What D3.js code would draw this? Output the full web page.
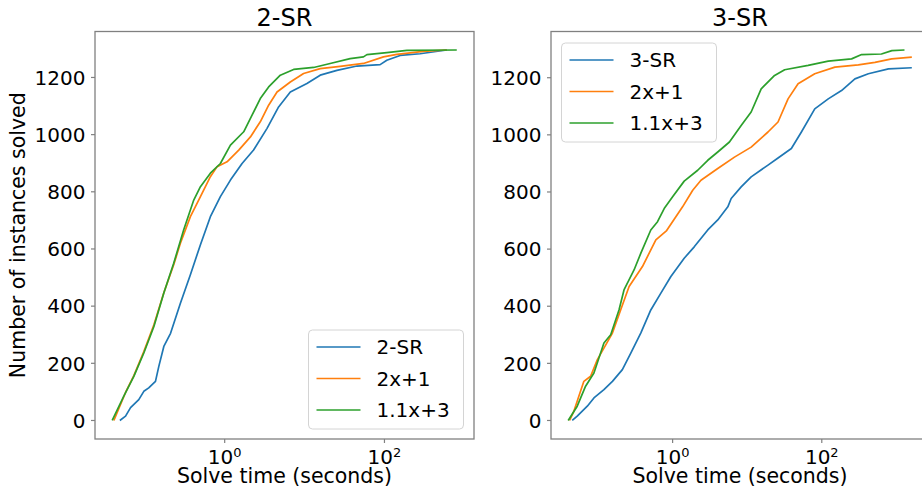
<!DOCTYPE html>
<html>
<head>
<meta charset="utf-8">
<script src="https://cdn.jsdelivr.net/npm/d3@7"></script>
<style>
  body { margin: 0; background: #fff; }
  text { font-family: "DejaVu Sans", sans-serif; fill: #000; }
</style>
</head>
<body>
<div id="chart"></div>
<script>
// Values: [solve time (s), instances solved]
const left2SR = [[0.0487,0],[0.0574,15],[0.0663,45],[0.0841,73],[0.0972,102],[0.112,114],[0.136,137],[0.150,190],
  [0.173,259],[0.210,305],[0.279,410],[0.372,510],[0.497,615],[0.662,713],[0.883,783],[1.18,841],[1.65,899],
  [2.30,946],[3.39,1022],[4.73,1097],[6.63,1149],[10.7,1179],[15.7,1208],[25.4,1225],[45.2,1240],[88.3,1245],
  [107,1260],[157,1277],[279,1283],[603,1296]];
const left2x1 = [[0.041,0],[0.0574,98],[0.0729,157],[0.0972,241],[0.130,335],[0.173,447],[0.230,545],[0.279,620],
  [0.372,713],[0.497,783],[0.662,853],[0.804,888],[1.07,905],[1.50,946],[2.10,992],[2.79,1045],[3.55,1103],
  [4.52,1149],[6.63,1184],[9.72,1214],[15.7,1231],[27.9,1239],[54.6,1249],[97.2,1272],[143,1281],[307,1291],[603,1296]];
const left11x3 = [[0.0391,0],[0.0546,85],[0.0729,154],[0.0972,236],[0.130,329],[0.173,446],[0.230,550],[0.307,667],
  [0.410,771],[0.497,818],[0.662,865],[0.883,899],[1.18,963],[1.73,1010],[2.20,1068],[2.79,1126],[3.55,1167],
  [4.97,1208],[7.29,1228],[13.0,1235],[20.9,1249],[37.2,1266],[54.6,1272],[60.3,1280],[107,1287],[191,1295],[804,1296]];

const right3SR = [[0.0451,0],[0.0526,15],[0.0718,50],[0.0881,79],[0.120,108],[0.156,137],[0.212,178],[0.275,236],
  [0.374,306],[0.510,387],[0.696,446],[0.948,504],[1.43,568],[1.95,608],[2.96,667],[4.03,702],[5.50,748],[6.10,777],
  [8.30,818],[11.3,853],[19.0,894],[25.9,919],[39.1,952],[53.3,1010],[80.5,1091],[122,1126],[184,1155],[278,1196],
  [421,1214],[783,1231],[1611,1235]];
const right2x1 = [[0.0415,0],[0.0474,32],[0.0553,85],[0.0646,137],[0.0795,155],[0.098,213],[0.156,306],[0.201,387],
  [0.261,469],[0.394,539],[0.596,632],[0.832,665],[1.36,748],[1.86,806],[2.40,841],[4.03,882],[6.75,922],[11.3,957],
  [19.0,1010],[25.9,1045],[35.3,1126],[48.1,1179],[80.5,1214],[150,1237],[309,1245],[516,1254],[867,1266],[1611,1272]];
const right11x3 = [[0.0398,0],[0.0526,50],[0.0681,120],[0.0881,166],[0.120,271],[0.148,300],[0.191,387],[0.223,457],
  [0.304,527],[0.374,585],[0.510,667],[0.628,696],[0.771,742],[1.0,783],[1.43,838],[2.17,876],[2.96,911],[4.03,940],
  [5.78,975],[8.30,1033],[11.3,1080],[15.4,1161],[23.3,1208],[31.8,1228],[65.6,1243],[122,1258],[251,1266],
  [342,1281],[631,1283],[871,1295],[1285,1297]];

const titles = ["2-SR", "3-SR"];
const leftLabels = ["2-SR", "2x+1", "1.1x+3"];
const rightLabels = ["3-SR", "2x+1", "1.1x+3"];
const yTicks = [0, 200, 400, 600, 800, 1000, 1200];
const xTickExps = [0, 2];
const colors = ["#1f77b4", "#ff7f0e", "#2ca02c"];

const W = 922, H = 497;
const plotTop = 31.5, plotBottom = 439;
const spineColor = "#808080";

const svg = d3.select("#chart").append("svg")
  .attr("width", W)
  .attr("height", H);

function drawPanel(left, right, title, seriesList, labels, legendPos) {
  const all = seriesList.flat();
  // log-x extent with 5% padding (in log space), like matplotlib autoscale
  const lx = d3.extent(all, d => Math.log10(d[0]));
  const padX = (lx[1] - lx[0]) * 0.05;
  const x = d3.scaleLog()
    .domain([Math.pow(10, lx[0] - padX), Math.pow(10, lx[1] + padX)])
    .range([left, right]);
  const yMax = d3.max(all, d => d[1]);
  const padY = yMax * 0.05;
  const y = d3.scaleLinear()
    .domain([-padY, yMax + padY])
    .range([plotBottom, plotTop]);

  const g = svg.append("g");

  // curves
  const line = d3.line().x(d => x(d[0])).y(d => y(d[1]));
  g.selectAll("path.curve")
    .data(seriesList)
    .join("path")
    .attr("class", "curve")
    .attr("d", line)
    .attr("fill", "none")
    .attr("stroke", (d, i) => colors[i])
    .attr("stroke-width", 1.7)
    .attr("stroke-linejoin", "round");

  // spines
  g.append("rect")
    .attr("x", left).attr("y", plotTop)
    .attr("width", right - left).attr("height", plotBottom - plotTop)
    .attr("fill", "none")
    .attr("stroke", spineColor)
    .attr("stroke-width", 1.3);

  // y ticks
  const yt = g.append("g").selectAll("g").data(yTicks).join("g")
    .attr("transform", d => "translate(" + left + "," + y(d) + ")");
  yt.append("line").attr("x1", -4).attr("x2", 0).attr("stroke", spineColor).attr("stroke-width", 1.2);
  yt.append("text")
    .attr("x", -9.5).attr("dy", "0.36em")
    .attr("text-anchor", "end")
    .style("font-size", "20px")
    .text(d => d);

  // x ticks (10^0, 10^2)
  const xt = g.append("g").selectAll("g").data(xTickExps).join("g")
    .attr("transform", d => "translate(" + x(Math.pow(10, d)) + "," + plotBottom + ")");
  xt.append("line").attr("y1", 0).attr("y2", 4).attr("stroke", spineColor).attr("stroke-width", 1.2);
  const xl = xt.append("text")
    .attr("y", 24.5)
    .attr("text-anchor", "middle")
    .style("font-size", "20px");
  xl.append("tspan").text("10");
  xl.append("tspan").attr("dy", -6.5).style("font-size", "13px").text(d => d);

  // x label
  g.append("text")
    .attr("x", (left + right) / 2)
    .attr("y", 483)
    .attr("text-anchor", "middle")
    .style("font-size", "20.5px")
    .text("Solve time (seconds)");

  // title
  g.append("text")
    .attr("x", (left + right) / 2)
    .attr("y", 25.5)
    .attr("text-anchor", "middle")
    .style("font-size", "24px")
    .text(title);

  // legend
  const lg = g.append("g").attr("transform", "translate(" + legendPos[0] + "," + legendPos[1] + ")");
  lg.append("rect")
    .attr("width", 155).attr("height", 99)
    .attr("rx", 4).attr("ry", 4)
    .attr("fill", "#fff").attr("fill-opacity", 0.8)
    .attr("stroke", "#d4d4d4").attr("stroke-width", 1);
  const items = lg.selectAll("g.item").data(labels).join("g")
    .attr("class", "item")
    .attr("transform", (d, i) => "translate(0," + (17 + i * 31.5) + ")");
  items.append("line")
    .attr("x1", 8).attr("x2", 52)
    .attr("stroke", (d, i) => colors[i])
    .attr("stroke-width", 1.7);
  items.append("text")
    .attr("x", 68).attr("dy", "0.36em")
    .style("font-size", "20px")
    .text(d => d);

  return { x, y };
}

drawPanel(95, 474, titles[0], [left2SR, left2x1, left11x3], leftLabels, [308.5, 330]);
drawPanel(551, 929, titles[1], [right3SR, right2x1, right11x3], rightLabels, [561.5, 43]);

// shared y label
svg.append("text")
  .attr("transform", "translate(25," + (plotTop + plotBottom) / 2 + ") rotate(-90)")
  .attr("text-anchor", "middle")
  .style("font-size", "20.5px")
  .text("Number of instances solved");
</script>
</body>
</html>
